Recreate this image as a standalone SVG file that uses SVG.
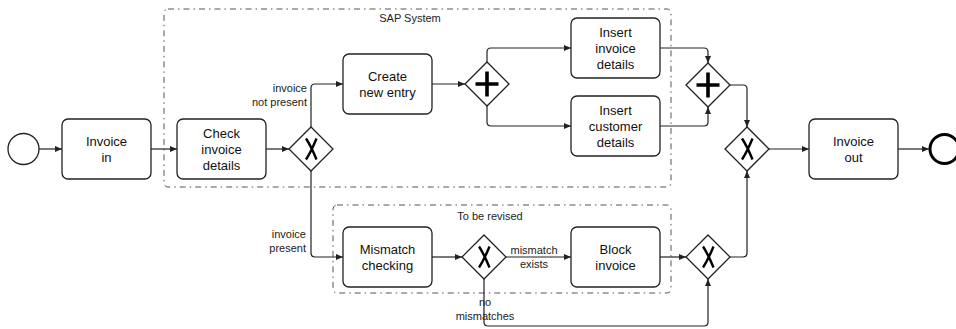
<svg xmlns="http://www.w3.org/2000/svg" width="956" height="329" viewBox="0 0 956 329">
<style>
.task{fill:#fff;stroke:#222;stroke-width:1.3}
.gw{fill:#fff;stroke:#222;stroke-width:1.3}
.mk{fill:none;stroke:#000;stroke-width:2.4;stroke-linecap:butt}
.pl{fill:none;stroke:#000;stroke-width:3.6}
.grp{fill:none;stroke:#555;stroke-width:1;stroke-dasharray:6 4 1.5 4}
.edge{fill:none;stroke:#222;stroke-width:1.2;marker-end:url(#arr)}
.t{font-family:"Liberation Sans",Arial,sans-serif;font-size:13px;fill:#111;text-anchor:middle}
.l{font-family:"Liberation Sans",Arial,sans-serif;font-size:11px;fill:#222}
</style>
<defs>
<marker id="arr" markerUnits="userSpaceOnUse" markerWidth="8" markerHeight="6" refX="7" refY="3" orient="auto">
<path d="M0,0 L7,3 L0,6 z" fill="#222"/>
</marker>
</defs>
<rect width="956" height="329" fill="#fff"/>
<g id="group-sap">
<rect class="grp" x="164" y="9" width="507" height="178" rx="4"/>
<text class="l" x="410" y="22" text-anchor="middle">SAP System</text>
</g>
<g id="group-revise">
<rect class="grp" x="333" y="205" width="338" height="88" rx="4"/>
<text class="l" x="490" y="220" text-anchor="middle">To be revised</text>
</g>
<g id="connectors">
<path class="edge" d="M39,149 H62"/>
<path class="edge" d="M151,149 H177"/>
<path class="edge" d="M266,149 H289"/>
<path class="edge" d="M311,127 V88 Q311,84 315,84 H343"/>
<path class="edge" d="M311,171 V253 Q311,257 315,257 H343"/>
<path class="edge" d="M432,84 H465"/>
<path class="edge" d="M487,62 V52 Q487,48 491,48 H571"/>
<path class="edge" d="M487,106 V122 Q487,126 491,126 H571"/>
<path class="edge" d="M660,48 H704 Q708,48 708,52 V63"/>
<path class="edge" d="M660,126 H704 Q708,126 708,122 V107"/>
<path class="edge" d="M730,85 H743 Q747,85 747,89 V127"/>
<path class="edge" d="M769,149 H809"/>
<path class="edge" d="M898,149 H929"/>
<path class="edge" d="M432,257 H462"/>
<path class="edge" d="M506,257 H571"/>
<path class="edge" d="M660,257 H686"/>
<path class="edge" d="M730,257 H743 Q747,257 747,253 V171"/>
<path class="edge" d="M484,279 V322 Q484,326 488,326 H704 Q708,326 708,322 V279"/>
<text class="l" x="307" y="92" text-anchor="end">invoice</text>
<text class="l" x="307" y="106" text-anchor="end">not present</text>
<text class="l" x="306" y="238" text-anchor="end">invoice</text>
<text class="l" x="306" y="252" text-anchor="end">present</text>
<text class="l" x="534" y="254" text-anchor="middle">mismatch</text>
<text class="l" x="534" y="268" text-anchor="middle">exists</text>
<text class="l" x="485" y="306" text-anchor="middle">no</text>
<text class="l" x="485" y="320" text-anchor="middle">mismatches</text>
</g>
<g id="start">
<circle cx="23.5" cy="149" r="15.5" fill="#fff" stroke="#222" stroke-width="1.3"/>
</g>
<g id="invoice-in">
<rect class="task" x="62" y="119" width="89" height="60" rx="6"/>
<text class="t" x="106.5" y="145.5">Invoice</text>
<text class="t" x="106.5" y="161.5">in</text>
</g>
<g id="check-invoice">
<rect class="task" x="177" y="119" width="89" height="60" rx="6"/>
<text class="t" x="221.5" y="137.5">Check</text>
<text class="t" x="221.5" y="153.5">invoice</text>
<text class="t" x="221.5" y="169.5">details</text>
</g>
<g id="gw-present">
<polygon class="gw" points="289,149 311,127 333,149 311,171"/>
<path class="mk" d="M306,138.5 Q311,146 316.5,159.5 M316.5,138.5 Q311,152 306,159.5"/>
</g>
<g id="create-entry">
<rect class="task" x="343" y="54" width="89" height="60" rx="6"/>
<text class="t" x="387.5" y="80.5">Create</text>
<text class="t" x="387.5" y="96.5">new entry</text>
</g>
<g id="gw-split">
<polygon class="gw" points="465,84 487,62 509,84 487,106"/>
<path class="pl" d="M475.5,84 H498.5 M487,71.5 V96.5"/>
</g>
<g id="insert-invoice">
<rect class="task" x="571" y="18" width="89" height="60" rx="6"/>
<text class="t" x="615.5" y="36.5">Insert</text>
<text class="t" x="615.5" y="52.5">invoice</text>
<text class="t" x="615.5" y="68.5">details</text>
</g>
<g id="insert-customer">
<rect class="task" x="571" y="96" width="89" height="60" rx="6"/>
<text class="t" x="615.5" y="114.5">Insert</text>
<text class="t" x="615.5" y="130.5">customer</text>
<text class="t" x="615.5" y="146.5">details</text>
</g>
<g id="gw-join">
<polygon class="gw" points="686,85 708,63 730,85 708,107"/>
<path class="pl" d="M696.5,85 H719.5 M708,72.5 V97.5"/>
</g>
<g id="gw-merge">
<polygon class="gw" points="725,149 747,127 769,149 747,171"/>
<path class="mk" d="M742,138.5 Q747,146 752.5,159.5 M752.5,138.5 Q747,152 742,159.5"/>
</g>
<g id="invoice-out">
<rect class="task" x="809" y="119" width="89" height="60" rx="6"/>
<text class="t" x="853.5" y="145.5">Invoice</text>
<text class="t" x="853.5" y="161.5">out</text>
</g>
<g id="end">
<circle cx="944.5" cy="149" r="14.5" fill="#fff" stroke="#000" stroke-width="3"/>
</g>
<g id="mismatch-checking">
<rect class="task" x="343" y="227" width="89" height="60" rx="6"/>
<text class="t" x="387.5" y="253.5">Mismatch</text>
<text class="t" x="387.5" y="269.5">checking</text>
</g>
<g id="gw-mismatch">
<polygon class="gw" points="462,257 484,235 506,257 484,279"/>
<path class="mk" d="M479,246.5 Q484,254 489.5,267.5 M489.5,246.5 Q484,260 479,267.5"/>
</g>
<g id="block-invoice">
<rect class="task" x="571" y="227" width="89" height="60" rx="6"/>
<text class="t" x="615.5" y="253.5">Block</text>
<text class="t" x="615.5" y="269.5">invoice</text>
</g>
<g id="gw-revise-merge">
<polygon class="gw" points="686,257 708,235 730,257 708,279"/>
<path class="mk" d="M703,246.5 Q708,254 713.5,267.5 M713.5,246.5 Q708,260 703,267.5"/>
</g>
</svg>
